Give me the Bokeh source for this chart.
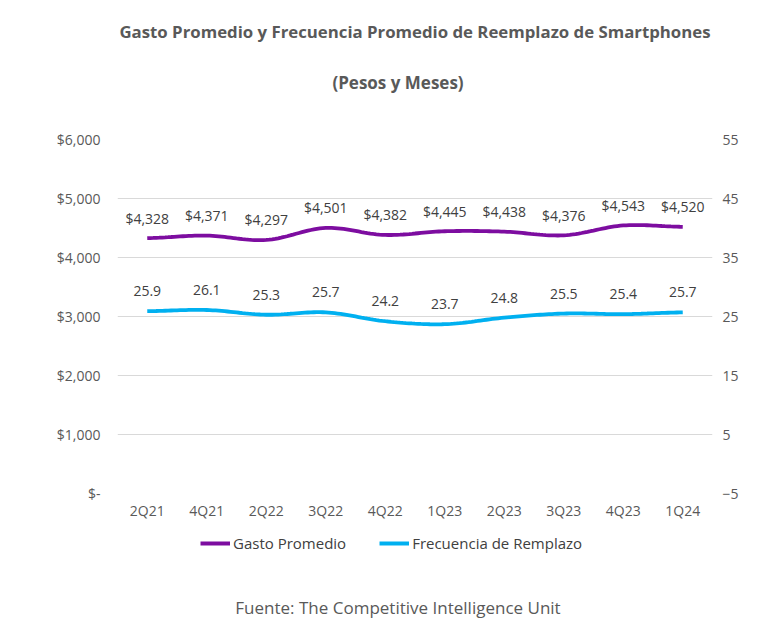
import numpy as np
from bokeh.plotting import figure
from bokeh.layouts import column
from bokeh.models import (Range1d, LinearAxis, FixedTicker, Legend, LegendItem,
                          ColumnDataSource)
from bokeh.core.properties import value
from bokeh.embed import file_html
from bokeh.resources import INLINE

title_text = "Gasto Promedio y Frecuencia Promedio de Reemplazo de Smartphones"
subtitle_text = "(Pesos y Meses)"
source_text = "Fuente: The Competitive Intelligence Unit"
categories = ["2Q21", "4Q21", "2Q22", "3Q22", "4Q22", "1Q23", "2Q23", "3Q23", "4Q23", "1Q24"]
gasto = [4328, 4371, 4297, 4501, 4382, 4445, 4438, 4376, 4543, 4520]
frecuencia = [25.9, 26.1, 25.3, 25.7, 24.2, 23.7, 24.8, 25.5, 25.4, 25.7]
series_names = ["Gasto Promedio", "Frecuencia de Remplazo"]
left_ticks = [0, 1000, 2000, 3000, 4000, 5000, 6000]
left_tick_labels = ["$-", "$1,000", "$2,000", "$3,000", "$4,000", "$5,000", "$6,000"]
right_ticks = [-5, 5, 15, 25, 35, 45, 55]

PURPLE = "#7D0DA0"
BLUE = "#00B0F0"
GREY = "#595959"
DARK = "#404040"
FONT = "Open Sans"
W = 770
BL, BR = 117, 58          # left / right borders shared by all stacked figures
FR = W - BR               # frame right edge

x = np.arange(len(categories), dtype=float)


def smooth(xs, ys, n=20, t=0.5):
    # Catmull-Rom rendering of the line (drawing style only)
    xs = np.asarray(xs, float)
    ys = np.asarray(ys, float)
    px = np.concatenate([[xs[0]], xs, [xs[-1]]])
    py = np.concatenate([[ys[0]], ys, [ys[-1]]])
    ox, oy = [], []
    for i in range(1, len(px) - 2):
        p0, p1, p2, p3 = py[i - 1], py[i], py[i + 1], py[i + 2]
        m1 = t * (p2 - p0)
        m2 = t * (p3 - p1)
        for s in np.linspace(0, 1, n, endpoint=False):
            h00 = 2 * s**3 - 3 * s**2 + 1
            h10 = s**3 - 2 * s**2 + s
            h01 = -2 * s**3 + 3 * s**2
            h11 = s**3 - s**2
            ox.append(px[i] + s * (px[i + 1] - px[i]))
            oy.append(h00 * p1 + h10 * m1 + h01 * p2 + h11 * m2)
    ox.append(xs[-1])
    oy.append(ys[-1])
    return ox, oy


def strip(h):
    f = figure(width=W, height=h, output_backend="svg", toolbar_location=None,
               x_range=Range1d(BL, FR), y_range=Range1d(h, 0), x_axis_type=None,
               y_axis_type=None, min_border_left=BL, min_border_right=BR,
               min_border_top=0, min_border_bottom=0, outline_line_color=None)
    f.xgrid.grid_line_color = None
    f.ygrid.grid_line_color = None
    return f


# ---------------- title strip ----------------
H0 = 100
t = strip(H0)
t.text(x=[(BL + FR) / 2], y=[31], text=[title_text], text_align="center",
       text_baseline="middle", text_font=value(FONT), text_font_size="16.8px",
       text_font_style="bold", text_color=GREY)
t.text(x=[397.5], y=[82], text=[subtitle_text], text_align="center",
       text_baseline="middle", text_font=value(FONT), text_font_size="17px",
       text_font_style="bold", text_color=GREY)

# ---------------- main chart ----------------
p = figure(width=W, height=433, output_backend="svg", toolbar_location=None,
           x_range=Range1d(-0.5, len(categories) - 0.5), y_range=Range1d(0, 6000),
           min_border_left=BL, min_border_right=BR, min_border_top=39,
           min_border_bottom=40, outline_line_color=None)
p.extra_y_ranges = {"r": Range1d(-5, 55)}

p.xaxis.ticker = FixedTicker(ticks=list(x))
p.xaxis.major_label_overrides = {i: c for i, c in enumerate(categories)}
p.yaxis.ticker = FixedTicker(ticks=left_ticks)
p.yaxis.major_label_overrides = {tk: lb for tk, lb in zip(left_ticks, left_tick_labels)}

raxis = LinearAxis(y_range_name="r", ticker=FixedTicker(ticks=right_ticks))
p.add_layout(raxis, "right")

for ax in [p.xaxis[0], p.yaxis[0], raxis]:
    ax.axis_line_color = None
    ax.major_tick_line_color = None
    ax.minor_tick_line_color = None
    ax.major_tick_out = 0
    ax.major_tick_in = 0
    ax.minor_tick_out = 0
    ax.major_label_text_font = FONT
    ax.major_label_text_font_size = "14px"
    ax.major_label_text_color = GREY
p.yaxis[0].major_label_standoff = 17
raxis.major_label_standoff = 10
p.xaxis[0].major_label_standoff = 7

p.xgrid.grid_line_color = None
p.ygrid.grid_line_color = "#D9D9D9"
p.ygrid.ticker = FixedTicker(ticks=left_ticks)

gx, gy = smooth(x, gasto)
fx, fy = smooth(x, frecuencia)
r1 = p.line(gx, gy, line_color=PURPLE, line_width=3.8)
r2 = p.line(fx, fy, line_color=BLUE, line_width=3.8, y_range_name="r")

src_g = ColumnDataSource(dict(x=x, y=gasto, t=[f"${v:,}" for v in gasto]))
src_f = ColumnDataSource(dict(x=x, y=frecuencia, t=[f"{v:.1f}" for v in frecuencia]))
p.text("x", "y", text="t", source=src_g, text_align="center", text_baseline="middle",
       y_offset=-20, text_font=value(FONT), text_font_size="14px", text_color=DARK)
p.text("x", "y", text="t", source=src_f, text_align="center", text_baseline="middle",
       y_offset=-20, text_font=value(FONT), text_font_size="14px", text_color=DARK,
       y_range_name="r")

# ---------------- legend + source strip ----------------
H2 = 92
q = strip(H2)
l0 = q.line([-50, -40], [-50, -40], line_alpha=0)           # spacer entry
l1 = q.line([-50, -40], [-50, -40], line_color=PURPLE, line_width=4)
l2 = q.line([-50, -40], [-50, -40], line_color=BLUE, line_width=4)
legend = Legend(items=[LegendItem(label=" ", renderers=[l0]),
                       LegendItem(label=series_names[0], renderers=[l1]),
                       LegendItem(label=series_names[1], renderers=[l2])],
                orientation="horizontal", location="top_left", border_line_color=None,
                background_fill_alpha=0, label_text_font=FONT, label_text_font_size="15px",
                label_text_color=DARK, glyph_width=30, label_standoff=3, spacing=33,
                label_width=17, margin=0, padding=0)
q.add_layout(legend, "center")
q.text(x=[397.5], y=[74], text=[source_text], text_align="center", text_baseline="middle",
       text_font=value(FONT), text_font_size="17px", text_color=GREY)

layout = column(t, p, q)
open("out.html", "w").write(file_html(layout, INLINE))
